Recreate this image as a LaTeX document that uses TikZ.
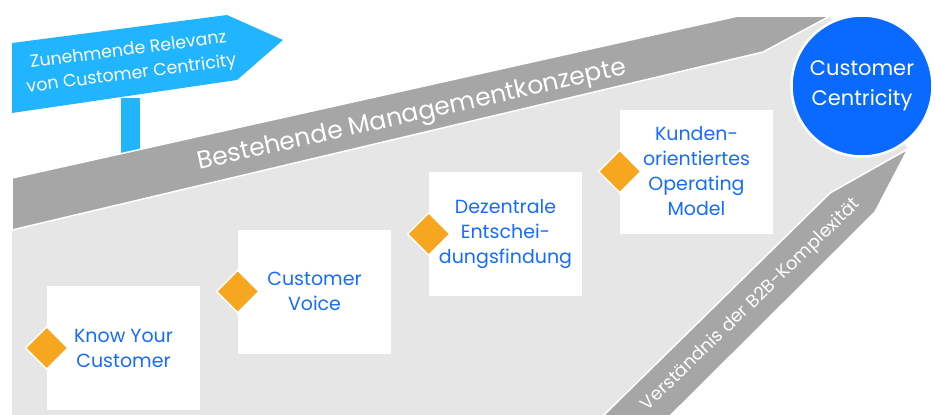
\documentclass[tikz,border=0pt]{standalone}
\usepackage{fontspec}
\setmainfont{Poppins}
\usetikzlibrary{shapes.geometric}
\definecolor{lgray}{RGB}{230,230,230}
\definecolor{dgray}{RGB}{166,166,166}
\definecolor{signblue}{RGB}{33,181,255}
\definecolor{cblue}{RGB}{10,106,255}
\definecolor{tblue}{RGB}{22,108,255}
\definecolor{orng}{RGB}{247,166,32}
\tikzset{
  stepbox/.style={fill=white, minimum width=153pt, minimum height=124pt, inner sep=0pt,
    text=tblue, align=center, font=\fontsize{19}{25}\selectfont},
  marker/.style={diamond, fill=orng, draw=white, line width=1.5pt, minimum size=43pt, inner sep=0pt},
  band/.style={fill=dgray, draw=white, line width=1.5pt, line join=miter},
  bandtext/.style={text=white, inner sep=0pt}
}
\begin{document}
\begin{tikzpicture}[x=1pt,y=-1pt]
\useasboundingbox (0,0) rectangle (935,415);
% light grey field
\fill[lgray] (12,230) -- (763,52) -- (830,16) -- (862,86) -- (908,149) -- (830,193) -- (603,415) -- (12,415) -- cycle;
% signpost
\fill[signblue] (121,98) rectangle (140,165);
\fill[signblue] (12,43) -- (227,15) -- (283,40) -- (237,80) -- (12,113) -- cycle;
\node[bandtext, rotate=7.4, align=center, font=\fontsize{17.4}{24}\selectfont] (sign) at (130,63) {Zunehmende Relevanz\\von Customer Centricity};
% bands
\path[band] (12,178) -- (738,16) -- (830,16) -- (763,52) -- (12,230) -- cycle;
\path[band] (603,416) -- (830,193) -- (908,149) -- (875,212) -- (670,416) -- cycle;
\node[bandtext, rotate=12.6, font=\fontsize{25}{30}\selectfont] (t1) at (412,116) {Bestehende Managementkonzepte};
\node[bandtext, rotate=44, font=\fontsize{18}{20}\selectfont] (t2) at (751,305) {Verständnis der B2B-Komplexität};
% circle
\node[circle, fill=cblue, draw=white, line width=2.5pt, minimum size=141pt, inner sep=0pt,
  text=white, align=center, font=\fontsize{21}{30}\selectfont] (cc) at (862,86) {Customer\\Centricity};
% steps
\node[stepbox] (b1) at (123.5,348) {Know Your\\Customer};
\node[stepbox] (b2) at (314.5,291.5) {Customer\\Voice};
\node[stepbox] (b3) at (505.5,234) {Dezentrale\\Entschei-\\dungsfindung};
\node[stepbox] (b4) at (696.5,171.5) {Kunden-\\orientiertes\\Operating\\Model};
\node[marker] (d1) at (b1.west) {};
\node[marker] (d2) at (b2.west) {};
\node[marker] (d3) at (b3.west) {};
\node[marker] (d4) at (b4.west) {};
\end{tikzpicture}
\end{document}
